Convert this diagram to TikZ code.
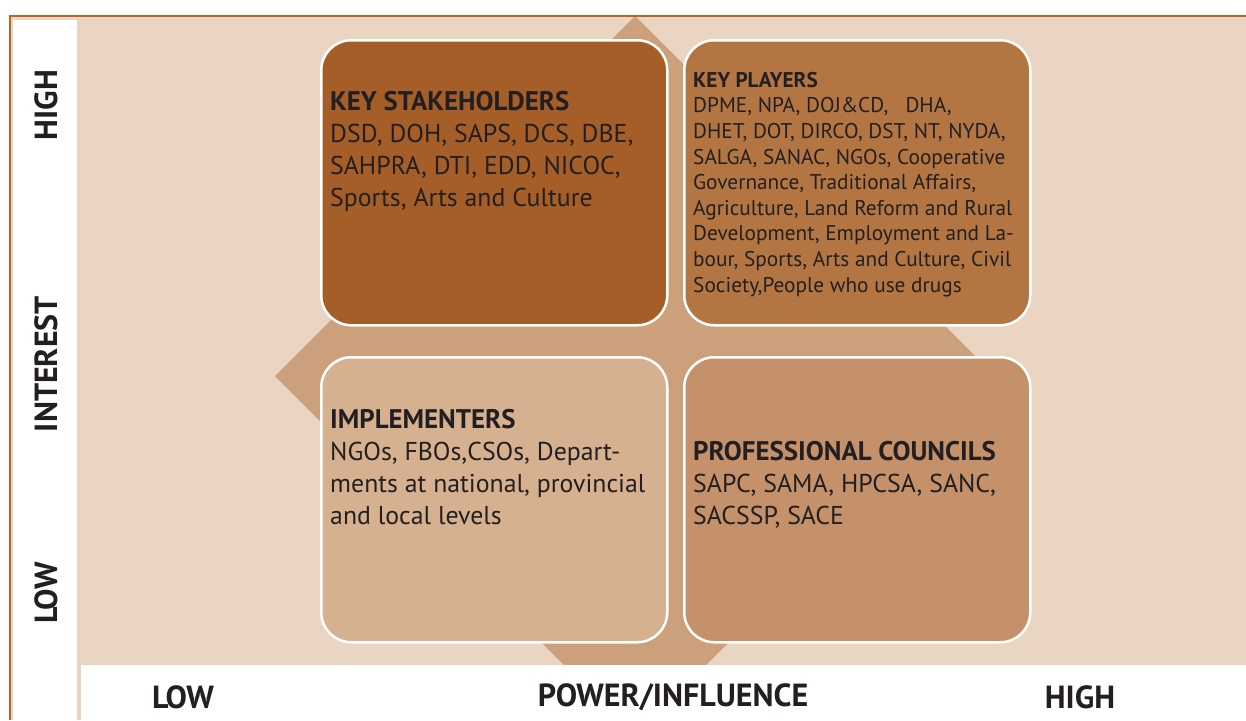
\documentclass[tikz,border=0pt]{standalone}
\usepackage{fontspec}
\setmainfont{PT Sans}
\definecolor{bg}{HTML}{E9D5C2}
\definecolor{diam}{HTML}{CBA07A}
\definecolor{ksc}{HTML}{A65E28}
\definecolor{kpc}{HTML}{B37643}
\definecolor{imc}{HTML}{D6B190}
\definecolor{pcc}{HTML}{C4916A}
\definecolor{framec}{HTML}{B5652A}
\definecolor{ink}{HTML}{231F20}
\newcommand{\bigtitle}[1]{{\fontsize{26.9}{32}\selectfont\bfseries #1}}
\begin{document}
\begin{tikzpicture}[x=1pt,y=-1pt,
  quad/.style={draw=white, line width=2.5pt, rounded corners=30pt, anchor=north west,
    minimum width=346pt, minimum height=285pt, inner sep=0pt},
  bigtxt/.style={anchor=base west, inner sep=0pt, align=left, text=ink,
    font=\fontsize{25.8}{32}\selectfont},
  smalltxt/.style={anchor=base west, inner sep=0pt, align=left, text=ink,
    font=\fontsize{21.3}{25.6}\selectfont},
  axis/.style={inner sep=0pt, text=ink, font=\fontsize{32}{38}\selectfont\bfseries}]
\useasboundingbox (0,0) rectangle (1246,720);
\fill[white] (0,0) rectangle (1246,720);
\fill[bg] (11,17) rectangle (1246,720);
\fill[diam] (635,16) -- (995,376) -- (706,665) -- (564,665) -- (275,376) -- cycle;
\fill[white] (81,665) rectangle (1246,720);
\fill[white] (13,20) rectangle (77,720);
\draw[framec, line width=2.5pt] (10,720) -- (10,16) -- (1246,16);

\node[quad, fill=ksc] (ks) at (320,39) {};
\node[quad, fill=kpc] (kp) at (683,39) {};
\node[quad, fill=imc] (im) at (320,356) {};
\node[quad, fill=pcc] (pc) at (683,356) {};

\node[bigtxt] (kst) at (330,206) {\bigtitle{KEY STAKEHOLDERS}\\DSD, DOH, SAPS, DCS, DBE,\\SAHPRA, DTI, EDD, NICOC,\\Sports, Arts and Culture};
\node[smalltxt] (kpt) at (693,292) {{\bfseries KEY PLAYERS}\\DPME, NPA, DOJ\&CD,\ \ \ DHA,\\DHET, DOT, DIRCO, DST, NT, NYDA,\\SALGA, SANAC, NGOs, Cooperative\\Governance, Traditional Affairs,\\Agriculture, Land Reform and Rural\\Development, Employment and La-\\bour, Sports, Arts and Culture, Civil\\Society,People who use drugs};
\node[bigtxt] (imt) at (330,524) {\bigtitle{IMPLEMENTERS}\\NGOs, FBOs,CSOs, Depart-\\ments at national, provincial\\and local levels};
\node[bigtxt] (pct) at (693,524) {\bigtitle{PROFESSIONAL COUNCILS}\\SAPC, SAMA, HPCSA, SANC,\\SACSSP, SACE};

\node[axis, rotate=90] (yh) at (46,105) {HIGH};
\node[axis, rotate=90] (yi) at (46,364) {INTEREST};
\node[axis, rotate=90] (yl) at (46,593) {LOW};
\node[axis] (xl) at (183,697) {LOW};
\node[axis] (xp) at (673,697) {POWER/INFLUENCE};
\node[axis] (xh) at (1080,697) {HIGH};
\end{tikzpicture}
\end{document}
